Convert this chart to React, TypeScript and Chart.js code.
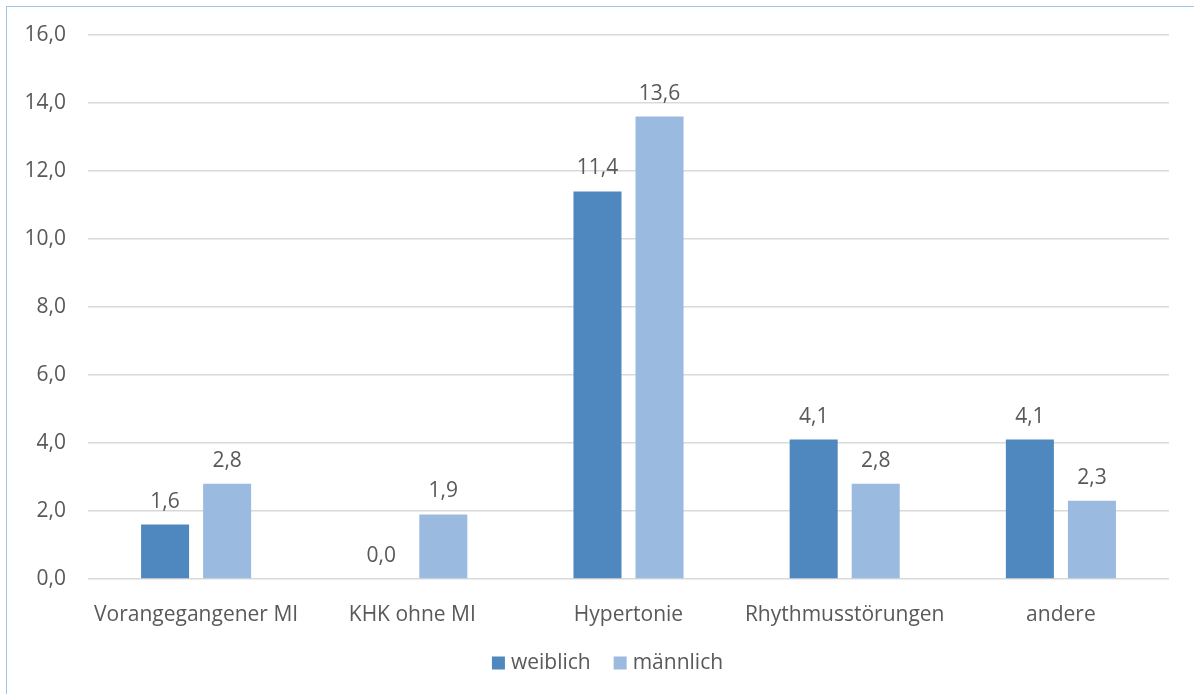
import React, { useEffect, useRef } from "react";
import { Chart, registerables } from "chart.js";

Chart.register(...registerables);

const categories = ["Vorangegangener MI", "KHK ohne MI", "Hypertonie", "Rhythmusstörungen", "andere"];
const weiblich = [1.6, 0.0, 11.4, 4.1, 4.1];
const maennlich = [2.8, 1.9, 13.6, 2.8, 2.3];
const seriesNames = ["weiblich", "männlich"];
const seriesColors = ["#4F88BE", "#9BBAE0"];

const FONT = "'Open Sans', 'Noto Sans', sans-serif";
const FONT_SIZE = 21;
const TEXT = "#595959";

const fmt = (v: number) => v.toFixed(1).replace(".", ",");

// Writes each bar's value above it
const valueLabels = {
  id: "valueLabels",
  afterDatasetsDraw(chart: any) {
    const ctx = chart.ctx;
    ctx.save();
    ctx.font = `${FONT_SIZE}px ${FONT}`;
    ctx.fillStyle = TEXT;
    ctx.textAlign = "center";
    ctx.textBaseline = "alphabetic";
    chart.data.datasets.forEach((ds: any, i: number) => {
      const meta = chart.getDatasetMeta(i);
      meta.data.forEach((bar: any, j: number) => {
        ctx.fillText(fmt(ds.data[j]), bar.x, bar.y - 17);
      });
    });
    ctx.restore();
  },
};

// Compact legend row below the axis: square swatch, small gap, series name
const bottomLegend = {
  id: "bottomLegend",
  afterDraw(chart: any) {
    const ctx = chart.ctx;
    const box = 13;
    const gap = 6;
    const itemGap = 23;
    ctx.save();
    ctx.font = `${FONT_SIZE}px ${FONT}`;
    ctx.textBaseline = "middle";
    ctx.textAlign = "left";
    const items = chart.data.datasets.map((ds: any) => ({
      label: ds.label,
      color: ds.backgroundColor,
      w: ctx.measureText(ds.label).width,
    }));
    const total = items.reduce((s: number, it: any) => s + box + gap + it.w, 0) + itemGap * (items.length - 1);
    const centerX = (chart.chartArea.left + chart.chartArea.right) / 2 - 21;
    const cy = chart.chartArea.bottom + 84;
    let x = centerX - total / 2;
    items.forEach((it: any) => {
      ctx.fillStyle = it.color;
      ctx.fillRect(x, cy - box / 2, box, box);
      ctx.fillStyle = TEXT;
      ctx.fillText(it.label, x + box + gap, cy);
      x += box + gap + it.w + itemGap;
    });
    ctx.restore();
  },
};

export default function App() {
  const ref = useRef<HTMLCanvasElement>(null);

  useEffect(() => {
    if (!ref.current) return;
    const chart = new Chart(ref.current, {
      type: "bar",
      data: {
        labels: categories,
        datasets: [
          { label: seriesNames[0], data: weiblich, backgroundColor: seriesColors[0] },
          { label: seriesNames[1], data: maennlich, backgroundColor: seriesColors[1] },
        ],
      },
      options: {
        animation: false,
        responsive: false,
        layout: { padding: { top: 35, right: 25, left: 0, bottom: 52 } },
        datasets: { bar: { categoryPercentage: 0.574, barPercentage: 0.774 } },
        scales: {
          x: {
            grid: { display: false },
            border: { display: false },
            ticks: { color: TEXT, font: { family: FONT, size: FONT_SIZE }, padding: 15, maxRotation: 0 },
            afterFit: (s: any) => { s.height = 63; },
          },
          y: {
            min: 0,
            max: 16,
            grid: { color: "#D9D9D9", lineWidth: 1.5, drawTicks: false },
            border: { display: false },
            ticks: {
              stepSize: 2,
              color: TEXT,
              font: { family: FONT, size: FONT_SIZE },
              padding: 22,
              callback: (v: any) => fmt(Number(v)),
            },
            afterFit: (s: any) => { s.width = 88; },
          },
        },
        plugins: {
          legend: { display: false },
          tooltip: { enabled: false },
        },
      },
      plugins: [valueLabels, bottomLegend],
    });
    return () => chart.destroy();
  }, []);

  return (
    <div style={{ position: "fixed", left: 0, top: 0, width: 1194, height: 694, background: "#fff", overflow: "hidden" }}>
      <div style={{ position: "absolute", left: 6, top: 6, width: 1200, height: 700, border: "1px solid #9DC3E6" }} />
      <canvas ref={ref} width={1194} height={694} style={{ position: "absolute", left: 0, top: 0 }} />
    </div>
  );
}
